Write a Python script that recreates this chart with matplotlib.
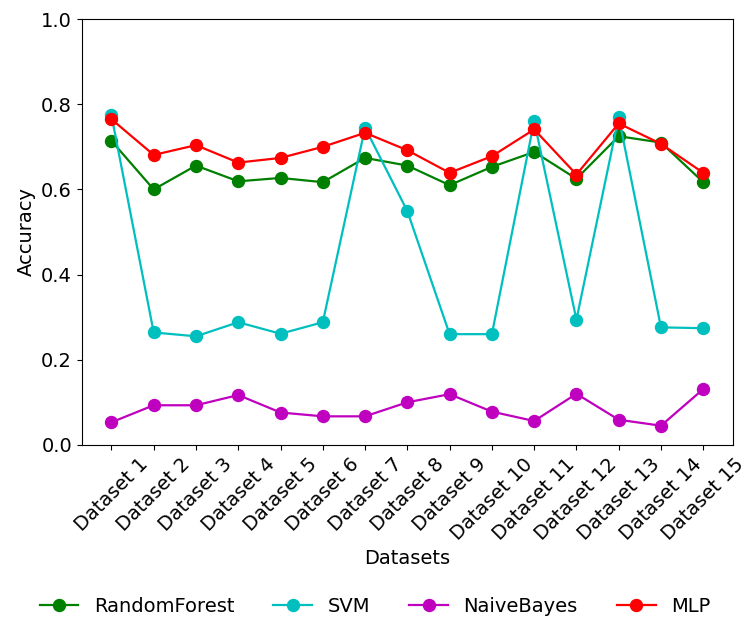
import matplotlib
matplotlib.use("Agg")
import matplotlib.pyplot as plt

datasets = ["Dataset %d" % i for i in range(1, 16)]

# accuracy per classifier
rf = [0.714, 0.600, 0.656, 0.619, 0.627, 0.617, 0.674, 0.656, 0.610, 0.653, 0.688, 0.625, 0.725, 0.710, 0.617]
svm = [0.774, 0.264, 0.255, 0.288, 0.261, 0.288, 0.745, 0.549, 0.260, 0.260, 0.761, 0.294, 0.770, 0.276, 0.274]
nb = [0.053, 0.093, 0.093, 0.117, 0.076, 0.067, 0.067, 0.100, 0.119, 0.078, 0.056, 0.120, 0.059, 0.045, 0.131]
mlp = [0.765, 0.681, 0.704, 0.663, 0.674, 0.700, 0.733, 0.692, 0.639, 0.678, 0.741, 0.635, 0.755, 0.707, 0.639]

plt.rcParams["font.size"] = 14

fig, ax = plt.subplots(figsize=(7.44, 6.17), dpi=100)
x = range(len(datasets))
ax.plot(x, rf, "g-o", label="RandomForest", markersize=8.6, linewidth=1.6)
ax.plot(x, svm, "c-o", label="SVM", markersize=8.6, linewidth=1.6)
ax.plot(x, nb, "m-o", label="NaiveBayes", markersize=8.6, linewidth=1.6)
ax.plot(x, mlp, "r-o", label="MLP", markersize=8.6, linewidth=1.6)

ax.set_ylim(0, 1.0)
ax.set_xlim(-0.7, 14.7)
ax.set_xticks(list(x))
ax.set_xticklabels(datasets, rotation=45, ha="center")
ax.set_xlabel("Datasets")
ax.set_ylabel("Accuracy")

fig.legend(loc="center", bbox_to_anchor=(0.504, 1 - 606 / 617), ncol=4, frameon=False)
plt.subplots_adjust(left=0.110, right=0.985, top=0.969, bottom=0.279)
plt.savefig("out.png")
